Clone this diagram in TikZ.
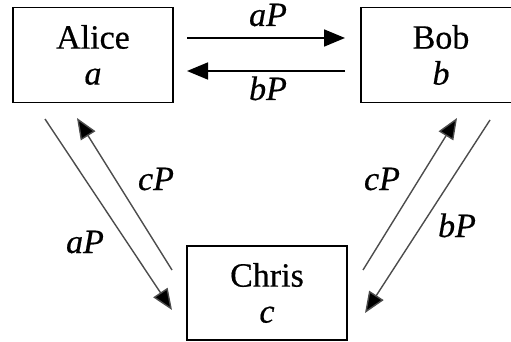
\documentclass[tikz,border=0pt]{standalone}
\usepackage{fontspec}
\setmainfont{Liberation Serif}[UprightFeatures={FakeBold=0.5},ItalicFeatures={FakeBold=0.5}]
\usetikzlibrary{arrows.meta}
\begin{document}
\begin{tikzpicture}[x=1pt,y=-1pt,
  party/.style={draw=black,line width=1.7pt,minimum width=160pt,minimum height=95pt,
    align=center,inner sep=0pt,font=\fontsize{34}{38}\selectfont},
  lbl/.style={font=\fontsize{34}{38}\selectfont\itshape,anchor=base,inner sep=0pt},
  harrow/.style={line width=1.7pt,-{Triangle[length=21pt,width=17pt]}},
  darrow/.style={line width=1.4pt,draw=black!70,-{Triangle[length=21pt,width=17pt,fill=black]}}]
\useasboundingbox (0,0) rectangle (511,342);
\node[party] (alice) at (93,55) {Alice\\[-2pt]\textit{a}};
\node[party] (bob) at (441,55) {Bob\\[-2pt]\textit{b}};
\node[party,minimum height=94pt] (chris) at (267,293) {Chris\\[-2pt]\textit{c}};
% named end points
\coordinate (t1) at (187,38); \coordinate (t2) at (345,38);
\coordinate (b1) at (345,71); \coordinate (b2) at (187,71);
\coordinate (la1) at (45,119); \coordinate (la2) at (172,310);
\coordinate (lc1) at (172,270); \coordinate (lc2) at (77,118);
\coordinate (rc1) at (363,270); \coordinate (rc2) at (457,118);
\coordinate (rb1) at (490,120); \coordinate (rb2) at (365,313);
\draw[harrow] (t1) -- (t2);
\draw[harrow] (b1) -- (b2);
\draw[darrow] (la1) -- (la2);
\draw[darrow] (lc1) -- (lc2);
\draw[darrow] (rc1) -- (rc2);
\draw[darrow] (rb1) -- (rb2);
\node[lbl] (laP) at (268,26) {aP};
\node[lbl] (lbP) at (268,100) {bP};
\node[lbl] (lcP1) at (156,190) {cP};
\node[lbl] (laP2) at (85,253) {aP};
\node[lbl] (lcP2) at (382,190) {cP};
\node[lbl] (lbP2) at (457,237) {bP};
\end{tikzpicture}
\end{document}
